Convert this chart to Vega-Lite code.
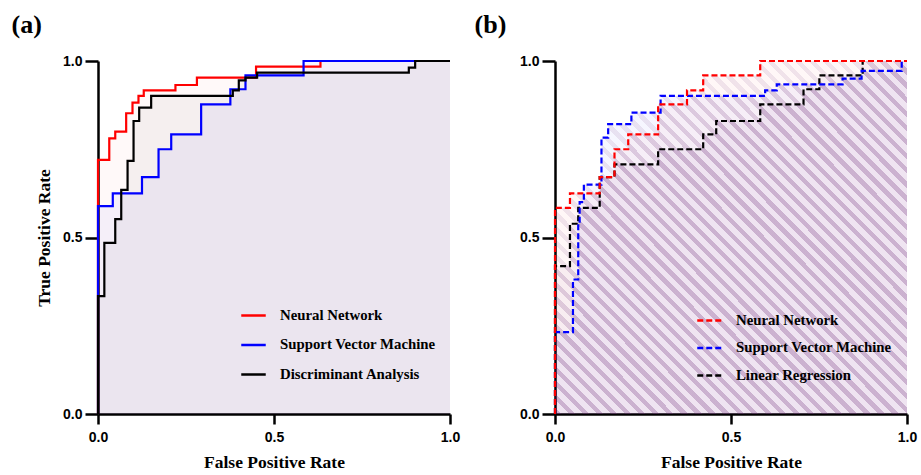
{
  "$schema": "https://vega.github.io/schema/vega-lite/v6.json",
  "background": "white",
  "padding": {"left": 11, "top": 12, "right": 2, "bottom": 2},
  "spacing": 14,
  "datasets": {
    "a": [
      {"model": "Neural Network", "fpr": 0, "tpr": 0},
      {"model": "Neural Network", "fpr": 0, "tpr": 0.72},
      {"model": "Neural Network", "fpr": 0.032, "tpr": 0.781},
      {"model": "Neural Network", "fpr": 0.049, "tpr": 0.8},
      {"model": "Neural Network", "fpr": 0.08, "tpr": 0.852},
      {"model": "Neural Network", "fpr": 0.098, "tpr": 0.882},
      {"model": "Neural Network", "fpr": 0.115, "tpr": 0.901},
      {"model": "Neural Network", "fpr": 0.13, "tpr": 0.917},
      {"model": "Neural Network", "fpr": 0.22, "tpr": 0.932},
      {"model": "Neural Network", "fpr": 0.281, "tpr": 0.953},
      {"model": "Neural Network", "fpr": 0.449, "tpr": 0.984},
      {"model": "Neural Network", "fpr": 0.632, "tpr": 1.0},
      {"model": "Neural Network", "fpr": 1.0, "tpr": 1.0},
      {"model": "Support Vector Machine", "fpr": 0, "tpr": 0},
      {"model": "Support Vector Machine", "fpr": 0, "tpr": 0.589},
      {"model": "Support Vector Machine", "fpr": 0.042, "tpr": 0.625},
      {"model": "Support Vector Machine", "fpr": 0.125, "tpr": 0.671},
      {"model": "Support Vector Machine", "fpr": 0.172, "tpr": 0.75},
      {"model": "Support Vector Machine", "fpr": 0.208, "tpr": 0.792},
      {"model": "Support Vector Machine", "fpr": 0.293, "tpr": 0.877},
      {"model": "Support Vector Machine", "fpr": 0.376, "tpr": 0.92},
      {"model": "Support Vector Machine", "fpr": 0.419, "tpr": 0.959},
      {"model": "Support Vector Machine", "fpr": 0.584, "tpr": 1.0},
      {"model": "Support Vector Machine", "fpr": 1.0, "tpr": 1.0},
      {"model": "Discriminant Analysis", "fpr": 0, "tpr": 0},
      {"model": "Discriminant Analysis", "fpr": 0, "tpr": 0.334},
      {"model": "Discriminant Analysis", "fpr": 0.018, "tpr": 0.485},
      {"model": "Discriminant Analysis", "fpr": 0.049, "tpr": 0.552},
      {"model": "Discriminant Analysis", "fpr": 0.066, "tpr": 0.635},
      {"model": "Discriminant Analysis", "fpr": 0.084, "tpr": 0.717},
      {"model": "Discriminant Analysis", "fpr": 0.101, "tpr": 0.83},
      {"model": "Discriminant Analysis", "fpr": 0.117, "tpr": 0.868},
      {"model": "Discriminant Analysis", "fpr": 0.151, "tpr": 0.901},
      {"model": "Discriminant Analysis", "fpr": 0.383, "tpr": 0.917},
      {"model": "Discriminant Analysis", "fpr": 0.4, "tpr": 0.945},
      {"model": "Discriminant Analysis", "fpr": 0.419, "tpr": 0.953},
      {"model": "Discriminant Analysis", "fpr": 0.452, "tpr": 0.967},
      {"model": "Discriminant Analysis", "fpr": 0.883, "tpr": 0.981},
      {"model": "Discriminant Analysis", "fpr": 0.901, "tpr": 1.0},
      {"model": "Discriminant Analysis", "fpr": 1.0, "tpr": 1.0}
    ],
    "b": [
      {"model": "Neural Network", "fpr": 0, "tpr": 0},
      {"model": "Neural Network", "fpr": 0, "tpr": 0.584},
      {"model": "Neural Network", "fpr": 0.0425, "tpr": 0.625},
      {"model": "Neural Network", "fpr": 0.127, "tpr": 0.671},
      {"model": "Neural Network", "fpr": 0.169, "tpr": 0.75},
      {"model": "Neural Network", "fpr": 0.208, "tpr": 0.792},
      {"model": "Neural Network", "fpr": 0.293, "tpr": 0.877},
      {"model": "Neural Network", "fpr": 0.375, "tpr": 0.917},
      {"model": "Neural Network", "fpr": 0.421, "tpr": 0.959},
      {"model": "Neural Network", "fpr": 0.583, "tpr": 1.0},
      {"model": "Neural Network", "fpr": 1.0, "tpr": 1.0},
      {"model": "Support Vector Machine", "fpr": 0, "tpr": 0},
      {"model": "Support Vector Machine", "fpr": 0, "tpr": 0.232},
      {"model": "Support Vector Machine", "fpr": 0.051, "tpr": 0.381},
      {"model": "Support Vector Machine", "fpr": 0.066, "tpr": 0.539},
      {"model": "Support Vector Machine", "fpr": 0.07, "tpr": 0.6},
      {"model": "Support Vector Machine", "fpr": 0.082, "tpr": 0.65},
      {"model": "Support Vector Machine", "fpr": 0.132, "tpr": 0.783},
      {"model": "Support Vector Machine", "fpr": 0.151, "tpr": 0.821},
      {"model": "Support Vector Machine", "fpr": 0.217, "tpr": 0.854},
      {"model": "Support Vector Machine", "fpr": 0.3, "tpr": 0.901},
      {"model": "Support Vector Machine", "fpr": 0.597, "tpr": 0.917},
      {"model": "Support Vector Machine", "fpr": 0.63, "tpr": 0.934},
      {"model": "Support Vector Machine", "fpr": 0.817, "tpr": 0.95},
      {"model": "Support Vector Machine", "fpr": 0.871, "tpr": 0.972},
      {"model": "Support Vector Machine", "fpr": 0.985, "tpr": 1.0},
      {"model": "Support Vector Machine", "fpr": 1.0, "tpr": 1.0},
      {"model": "Linear Regression", "fpr": 0, "tpr": 0},
      {"model": "Linear Regression", "fpr": 0, "tpr": 0.419},
      {"model": "Linear Regression", "fpr": 0.0425, "tpr": 0.539},
      {"model": "Linear Regression", "fpr": 0.066, "tpr": 0.584},
      {"model": "Linear Regression", "fpr": 0.127, "tpr": 0.671},
      {"model": "Linear Regression", "fpr": 0.169, "tpr": 0.707},
      {"model": "Linear Regression", "fpr": 0.293, "tpr": 0.75},
      {"model": "Linear Regression", "fpr": 0.421, "tpr": 0.792},
      {"model": "Linear Regression", "fpr": 0.458, "tpr": 0.83},
      {"model": "Linear Regression", "fpr": 0.583, "tpr": 0.877},
      {"model": "Linear Regression", "fpr": 0.706, "tpr": 0.92},
      {"model": "Linear Regression", "fpr": 0.751, "tpr": 0.959},
      {"model": "Linear Regression", "fpr": 0.874, "tpr": 1.0},
      {"model": "Linear Regression", "fpr": 1.0, "tpr": 1.0}
    ]
  },
  "resolve": {"scale": {"color": "independent"}, "legend": {"color": "independent"}},
  "hconcat": [
    {
      "width": 352,
      "height": 353,
      "title": {"text": "(a)", "anchor": "start", "frame": "bounds", "font": "Liberation Serif", "fontSize": 26, "fontWeight": "bold", "color": "black", "dx": -24, "offset": 16},
      "data": {"name": "a"},
      "encoding": {
        "x": {"field": "fpr", "type": "quantitative", "scale": {"domain": [0, 1], "nice": false}, "axis": {"title": "False Positive Rate", "values": [0, 0.5, 1], "format": ".1f"}},
        "y": {"field": "tpr", "type": "quantitative", "stack": null, "scale": {"domain": [0, 1], "nice": false}, "axis": {"title": "True Positive Rate", "values": [0, 0.5, 1], "format": ".1f"}}
      },
      "layer": [
        {"transform": [{"filter": "datum.model === 'Neural Network'"}], "mark": {"type": "area", "interpolate": "step-after", "fill": "#ff0000", "fillOpacity": 0.025}},
        {"transform": [{"filter": "datum.model === 'Support Vector Machine'"}], "mark": {"type": "area", "interpolate": "step-after", "fill": "#0000ff", "fillOpacity": 0.04}},
        {"transform": [{"filter": "datum.model === 'Discriminant Analysis'"}], "mark": {"type": "area", "interpolate": "step-after", "fill": "#000000", "fillOpacity": 0.04}},
        {"transform": [{"filter": "datum.model === 'Neural Network'"}], "mark": {"type": "line", "interpolate": "step-after", "strokeWidth": 2.2},
         "encoding": {"color": {"field": "model", "type": "nominal", "scale": {"domain": ["Neural Network", "Support Vector Machine", "Discriminant Analysis"], "range": ["#ff0000", "#0000ff", "#000000"]},
           "legend": {"title": null, "orient": "none", "legendX": 142, "legendY": 241, "symbolType": "stroke", "symbolSize": 600, "symbolStrokeWidth": 2.5, "labelFont": "Liberation Serif", "labelFontSize": 14.8, "labelFontWeight": "bold", "labelColor": "black", "rowPadding": 8.5, "labelOffset": 13, "labelLimit": 300}}}},
        {"transform": [{"filter": "datum.model === 'Support Vector Machine'"}], "mark": {"type": "line", "interpolate": "step-after", "strokeWidth": 2.2},
         "encoding": {"color": {"field": "model", "type": "nominal", "scale": {"domain": ["Neural Network", "Support Vector Machine", "Discriminant Analysis"], "range": ["#ff0000", "#0000ff", "#000000"]}}}},
        {"transform": [{"filter": "datum.model === 'Discriminant Analysis'"}], "mark": {"type": "line", "interpolate": "step-after", "strokeWidth": 2.2},
         "encoding": {"color": {"field": "model", "type": "nominal", "scale": {"domain": ["Neural Network", "Support Vector Machine", "Discriminant Analysis"], "range": ["#ff0000", "#0000ff", "#000000"]}}}}
      ]
    },
    {
      "width": 352,
      "height": 353,
      "title": {"text": "(b)", "anchor": "start", "frame": "bounds", "font": "Liberation Serif", "fontSize": 26, "fontWeight": "bold", "color": "black", "dx": -45, "offset": 16},
      "data": {"name": "b"},
      "encoding": {
        "x": {"field": "fpr", "type": "quantitative", "scale": {"domain": [0, 1], "nice": false}, "axis": {"title": "False Positive Rate", "values": [0, 0.5, 1], "format": ".1f"}},
        "y": {"field": "tpr", "type": "quantitative", "stack": null, "scale": {"domain": [0, 1], "nice": false}, "axis": {"title": null, "values": [0, 0.5, 1], "format": ".1f"}}
      },
      "layer": [
        {"transform": [{"filter": "datum.model === 'Neural Network'"}], "mark": {"type": "area", "interpolate": "step-after", "fill": "#ff0000", "fillOpacity": 0.03}},
        {"transform": [{"filter": "datum.model === 'Support Vector Machine'"}], "mark": {"type": "area", "interpolate": "step-after", "fill": "#0000ff", "fillOpacity": 0.035}},
        {"transform": [{"filter": "datum.model === 'Linear Regression'"}], "mark": {"type": "area", "interpolate": "step-after", "fill": "#500060", "fillOpacity": 0.04}},
        {"transform": [{"filter": "datum.model === 'Neural Network'"}], "mark": {"type": "area", "interpolate": "step-after"}},
        {"transform": [{"filter": "datum.model === 'Support Vector Machine'"}], "mark": {"type": "area", "interpolate": "step-after"}},
        {"transform": [{"filter": "datum.model === 'Linear Regression'"}], "mark": {"type": "area", "interpolate": "step-after"}},
        {"transform": [{"filter": "datum.model === 'Linear Regression'"}], "mark": {"type": "line", "interpolate": "step-after", "strokeWidth": 2.2, "strokeDash": [6, 3]},
         "encoding": {"color": {"field": "model", "type": "nominal", "scale": {"domain": ["Neural Network", "Support Vector Machine", "Linear Regression"], "range": ["#ff0000", "#0000ff", "#000000"]},
           "legend": {"title": null, "orient": "none", "legendX": 141, "legendY": 246, "symbolType": "stroke", "symbolSize": 600, "symbolStrokeWidth": 2.5, "symbolDash": [6, 3], "labelFont": "Liberation Serif", "labelFontSize": 14.8, "labelFontWeight": "bold", "labelColor": "black", "rowPadding": 6.5, "labelOffset": 13, "labelLimit": 300}}}},
        {"transform": [{"filter": "datum.model === 'Support Vector Machine'"}], "mark": {"type": "line", "interpolate": "step-after", "strokeWidth": 2.2, "strokeDash": [6, 3]},
         "encoding": {"color": {"field": "model", "type": "nominal", "scale": {"domain": ["Neural Network", "Support Vector Machine", "Linear Regression"], "range": ["#ff0000", "#0000ff", "#000000"]}}}},
        {"transform": [{"filter": "datum.model === 'Neural Network'"}], "mark": {"type": "line", "interpolate": "step-after", "strokeWidth": 2.2, "strokeDash": [6, 3]},
         "encoding": {"color": {"field": "model", "type": "nominal", "scale": {"domain": ["Neural Network", "Support Vector Machine", "Linear Regression"], "range": ["#ff0000", "#0000ff", "#000000"]}}}}
      ]
    }
  ],
  "config": {
    "view": {"stroke": null},
    "axis": {"grid": false, "domainColor": "black", "domainWidth": 2.5, "tickColor": "black", "tickWidth": 2.5, "labelFont": "Liberation Sans", "labelFontSize": 14, "labelFontWeight": "bold", "labelColor": "black", "labelFlush": false, "titleFont": "Liberation Serif", "titleFontSize": 17.5, "titleFontWeight": "bold", "titleColor": "black"},
    "axisX": {"tickSize": 10, "labelPadding": 6, "titlePadding": 9},
    "axisY": {"tickSize": 13, "labelPadding": 3, "titlePadding": 9},
    "area": {
        "fill": {
          "gradient": "linear", "x1": 0, "y1": 1, "x2": 1, "y2": 0,
          "stops": [
{"offset":0,"color":"rgba(110,45,120,0.1)"},{"offset":0.009,"color":"rgba(110,45,120,0.1)"},{"offset":0.009,"color":"rgba(110,45,120,0)"},{"offset":0.02,"color":"rgba(110,45,120,0)"},
{"offset":0.02,"color":"rgba(110,45,120,0.1)"},{"offset":0.029,"color":"rgba(110,45,120,0.1)"},{"offset":0.029,"color":"rgba(110,45,120,0)"},{"offset":0.04,"color":"rgba(110,45,120,0)"},
{"offset":0.04,"color":"rgba(110,45,120,0.1)"},{"offset":0.049,"color":"rgba(110,45,120,0.1)"},{"offset":0.049,"color":"rgba(110,45,120,0)"},{"offset":0.06,"color":"rgba(110,45,120,0)"},
{"offset":0.06,"color":"rgba(110,45,120,0.1)"},{"offset":0.069,"color":"rgba(110,45,120,0.1)"},{"offset":0.069,"color":"rgba(110,45,120,0)"},{"offset":0.08,"color":"rgba(110,45,120,0)"},
{"offset":0.08,"color":"rgba(110,45,120,0.1)"},{"offset":0.089,"color":"rgba(110,45,120,0.1)"},{"offset":0.089,"color":"rgba(110,45,120,0)"},{"offset":0.1,"color":"rgba(110,45,120,0)"},
{"offset":0.1,"color":"rgba(110,45,120,0.1)"},{"offset":0.109,"color":"rgba(110,45,120,0.1)"},{"offset":0.109,"color":"rgba(110,45,120,0)"},{"offset":0.12,"color":"rgba(110,45,120,0)"},
{"offset":0.12,"color":"rgba(110,45,120,0.1)"},{"offset":0.129,"color":"rgba(110,45,120,0.1)"},{"offset":0.129,"color":"rgba(110,45,120,0)"},{"offset":0.14,"color":"rgba(110,45,120,0)"},
{"offset":0.14,"color":"rgba(110,45,120,0.1)"},{"offset":0.149,"color":"rgba(110,45,120,0.1)"},{"offset":0.149,"color":"rgba(110,45,120,0)"},{"offset":0.16,"color":"rgba(110,45,120,0)"},
{"offset":0.16,"color":"rgba(110,45,120,0.1)"},{"offset":0.169,"color":"rgba(110,45,120,0.1)"},{"offset":0.169,"color":"rgba(110,45,120,0)"},{"offset":0.18,"color":"rgba(110,45,120,0)"},
{"offset":0.18,"color":"rgba(110,45,120,0.1)"},{"offset":0.189,"color":"rgba(110,45,120,0.1)"},{"offset":0.189,"color":"rgba(110,45,120,0)"},{"offset":0.2,"color":"rgba(110,45,120,0)"},
{"offset":0.2,"color":"rgba(110,45,120,0.1)"},{"offset":0.209,"color":"rgba(110,45,120,0.1)"},{"offset":0.209,"color":"rgba(110,45,120,0)"},{"offset":0.22,"color":"rgba(110,45,120,0)"},
{"offset":0.22,"color":"rgba(110,45,120,0.1)"},{"offset":0.229,"color":"rgba(110,45,120,0.1)"},{"offset":0.229,"color":"rgba(110,45,120,0)"},{"offset":0.24,"color":"rgba(110,45,120,0)"},
{"offset":0.24,"color":"rgba(110,45,120,0.1)"},{"offset":0.249,"color":"rgba(110,45,120,0.1)"},{"offset":0.249,"color":"rgba(110,45,120,0)"},{"offset":0.26,"color":"rgba(110,45,120,0)"},
{"offset":0.26,"color":"rgba(110,45,120,0.1)"},{"offset":0.269,"color":"rgba(110,45,120,0.1)"},{"offset":0.269,"color":"rgba(110,45,120,0)"},{"offset":0.28,"color":"rgba(110,45,120,0)"},
{"offset":0.28,"color":"rgba(110,45,120,0.1)"},{"offset":0.289,"color":"rgba(110,45,120,0.1)"},{"offset":0.289,"color":"rgba(110,45,120,0)"},{"offset":0.3,"color":"rgba(110,45,120,0)"},
{"offset":0.3,"color":"rgba(110,45,120,0.1)"},{"offset":0.309,"color":"rgba(110,45,120,0.1)"},{"offset":0.309,"color":"rgba(110,45,120,0)"},{"offset":0.32,"color":"rgba(110,45,120,0)"},
{"offset":0.32,"color":"rgba(110,45,120,0.1)"},{"offset":0.329,"color":"rgba(110,45,120,0.1)"},{"offset":0.329,"color":"rgba(110,45,120,0)"},{"offset":0.34,"color":"rgba(110,45,120,0)"},
{"offset":0.34,"color":"rgba(110,45,120,0.1)"},{"offset":0.349,"color":"rgba(110,45,120,0.1)"},{"offset":0.349,"color":"rgba(110,45,120,0)"},{"offset":0.36,"color":"rgba(110,45,120,0)"},
{"offset":0.36,"color":"rgba(110,45,120,0.1)"},{"offset":0.369,"color":"rgba(110,45,120,0.1)"},{"offset":0.369,"color":"rgba(110,45,120,0)"},{"offset":0.38,"color":"rgba(110,45,120,0)"},
{"offset":0.38,"color":"rgba(110,45,120,0.1)"},{"offset":0.389,"color":"rgba(110,45,120,0.1)"},{"offset":0.389,"color":"rgba(110,45,120,0)"},{"offset":0.4,"color":"rgba(110,45,120,0)"},
{"offset":0.4,"color":"rgba(110,45,120,0.1)"},{"offset":0.409,"color":"rgba(110,45,120,0.1)"},{"offset":0.409,"color":"rgba(110,45,120,0)"},{"offset":0.42,"color":"rgba(110,45,120,0)"},
{"offset":0.42,"color":"rgba(110,45,120,0.1)"},{"offset":0.429,"color":"rgba(110,45,120,0.1)"},{"offset":0.429,"color":"rgba(110,45,120,0)"},{"offset":0.44,"color":"rgba(110,45,120,0)"},
{"offset":0.44,"color":"rgba(110,45,120,0.1)"},{"offset":0.449,"color":"rgba(110,45,120,0.1)"},{"offset":0.449,"color":"rgba(110,45,120,0)"},{"offset":0.46,"color":"rgba(110,45,120,0)"},
{"offset":0.46,"color":"rgba(110,45,120,0.1)"},{"offset":0.469,"color":"rgba(110,45,120,0.1)"},{"offset":0.469,"color":"rgba(110,45,120,0)"},{"offset":0.48,"color":"rgba(110,45,120,0)"},
{"offset":0.48,"color":"rgba(110,45,120,0.1)"},{"offset":0.489,"color":"rgba(110,45,120,0.1)"},{"offset":0.489,"color":"rgba(110,45,120,0)"},{"offset":0.5,"color":"rgba(110,45,120,0)"},
{"offset":0.5,"color":"rgba(110,45,120,0.1)"},{"offset":0.509,"color":"rgba(110,45,120,0.1)"},{"offset":0.509,"color":"rgba(110,45,120,0)"},{"offset":0.52,"color":"rgba(110,45,120,0)"},
{"offset":0.52,"color":"rgba(110,45,120,0.1)"},{"offset":0.529,"color":"rgba(110,45,120,0.1)"},{"offset":0.529,"color":"rgba(110,45,120,0)"},{"offset":0.54,"color":"rgba(110,45,120,0)"},
{"offset":0.54,"color":"rgba(110,45,120,0.1)"},{"offset":0.549,"color":"rgba(110,45,120,0.1)"},{"offset":0.549,"color":"rgba(110,45,120,0)"},{"offset":0.56,"color":"rgba(110,45,120,0)"},
{"offset":0.56,"color":"rgba(110,45,120,0.1)"},{"offset":0.569,"color":"rgba(110,45,120,0.1)"},{"offset":0.569,"color":"rgba(110,45,120,0)"},{"offset":0.58,"color":"rgba(110,45,120,0)"},
{"offset":0.58,"color":"rgba(110,45,120,0.1)"},{"offset":0.589,"color":"rgba(110,45,120,0.1)"},{"offset":0.589,"color":"rgba(110,45,120,0)"},{"offset":0.6,"color":"rgba(110,45,120,0)"},
{"offset":0.6,"color":"rgba(110,45,120,0.1)"},{"offset":0.609,"color":"rgba(110,45,120,0.1)"},{"offset":0.609,"color":"rgba(110,45,120,0)"},{"offset":0.62,"color":"rgba(110,45,120,0)"},
{"offset":0.62,"color":"rgba(110,45,120,0.1)"},{"offset":0.629,"color":"rgba(110,45,120,0.1)"},{"offset":0.629,"color":"rgba(110,45,120,0)"},{"offset":0.64,"color":"rgba(110,45,120,0)"},
{"offset":0.64,"color":"rgba(110,45,120,0.1)"},{"offset":0.649,"color":"rgba(110,45,120,0.1)"},{"offset":0.649,"color":"rgba(110,45,120,0)"},{"offset":0.66,"color":"rgba(110,45,120,0)"},
{"offset":0.66,"color":"rgba(110,45,120,0.1)"},{"offset":0.669,"color":"rgba(110,45,120,0.1)"},{"offset":0.669,"color":"rgba(110,45,120,0)"},{"offset":0.68,"color":"rgba(110,45,120,0)"},
{"offset":0.68,"color":"rgba(110,45,120,0.1)"},{"offset":0.689,"color":"rgba(110,45,120,0.1)"},{"offset":0.689,"color":"rgba(110,45,120,0)"},{"offset":0.7,"color":"rgba(110,45,120,0)"},
{"offset":0.7,"color":"rgba(110,45,120,0.1)"},{"offset":0.709,"color":"rgba(110,45,120,0.1)"},{"offset":0.709,"color":"rgba(110,45,120,0)"},{"offset":0.72,"color":"rgba(110,45,120,0)"},
{"offset":0.72,"color":"rgba(110,45,120,0.1)"},{"offset":0.729,"color":"rgba(110,45,120,0.1)"},{"offset":0.729,"color":"rgba(110,45,120,0)"},{"offset":0.74,"color":"rgba(110,45,120,0)"},
{"offset":0.74,"color":"rgba(110,45,120,0.1)"},{"offset":0.749,"color":"rgba(110,45,120,0.1)"},{"offset":0.749,"color":"rgba(110,45,120,0)"},{"offset":0.76,"color":"rgba(110,45,120,0)"},
{"offset":0.76,"color":"rgba(110,45,120,0.1)"},{"offset":0.769,"color":"rgba(110,45,120,0.1)"},{"offset":0.769,"color":"rgba(110,45,120,0)"},{"offset":0.78,"color":"rgba(110,45,120,0)"},
{"offset":0.78,"color":"rgba(110,45,120,0.1)"},{"offset":0.789,"color":"rgba(110,45,120,0.1)"},{"offset":0.789,"color":"rgba(110,45,120,0)"},{"offset":0.8,"color":"rgba(110,45,120,0)"},
{"offset":0.8,"color":"rgba(110,45,120,0.1)"},{"offset":0.809,"color":"rgba(110,45,120,0.1)"},{"offset":0.809,"color":"rgba(110,45,120,0)"},{"offset":0.82,"color":"rgba(110,45,120,0)"},
{"offset":0.82,"color":"rgba(110,45,120,0.1)"},{"offset":0.829,"color":"rgba(110,45,120,0.1)"},{"offset":0.829,"color":"rgba(110,45,120,0)"},{"offset":0.84,"color":"rgba(110,45,120,0)"},
{"offset":0.84,"color":"rgba(110,45,120,0.1)"},{"offset":0.849,"color":"rgba(110,45,120,0.1)"},{"offset":0.849,"color":"rgba(110,45,120,0)"},{"offset":0.86,"color":"rgba(110,45,120,0)"},
{"offset":0.86,"color":"rgba(110,45,120,0.1)"},{"offset":0.869,"color":"rgba(110,45,120,0.1)"},{"offset":0.869,"color":"rgba(110,45,120,0)"},{"offset":0.88,"color":"rgba(110,45,120,0)"},
{"offset":0.88,"color":"rgba(110,45,120,0.1)"},{"offset":0.889,"color":"rgba(110,45,120,0.1)"},{"offset":0.889,"color":"rgba(110,45,120,0)"},{"offset":0.9,"color":"rgba(110,45,120,0)"},
{"offset":0.9,"color":"rgba(110,45,120,0.1)"},{"offset":0.909,"color":"rgba(110,45,120,0.1)"},{"offset":0.909,"color":"rgba(110,45,120,0)"},{"offset":0.92,"color":"rgba(110,45,120,0)"},
{"offset":0.92,"color":"rgba(110,45,120,0.1)"},{"offset":0.929,"color":"rgba(110,45,120,0.1)"},{"offset":0.929,"color":"rgba(110,45,120,0)"},{"offset":0.94,"color":"rgba(110,45,120,0)"},
{"offset":0.94,"color":"rgba(110,45,120,0.1)"},{"offset":0.949,"color":"rgba(110,45,120,0.1)"},{"offset":0.949,"color":"rgba(110,45,120,0)"},{"offset":0.96,"color":"rgba(110,45,120,0)"},
{"offset":0.96,"color":"rgba(110,45,120,0.1)"},{"offset":0.969,"color":"rgba(110,45,120,0.1)"},{"offset":0.969,"color":"rgba(110,45,120,0)"},{"offset":0.98,"color":"rgba(110,45,120,0)"},
{"offset":0.98,"color":"rgba(110,45,120,0.1)"},{"offset":0.989,"color":"rgba(110,45,120,0.1)"},{"offset":0.989,"color":"rgba(110,45,120,0)"},{"offset":1,"color":"rgba(110,45,120,0)"}
          ]
        }
    }
  }
}
